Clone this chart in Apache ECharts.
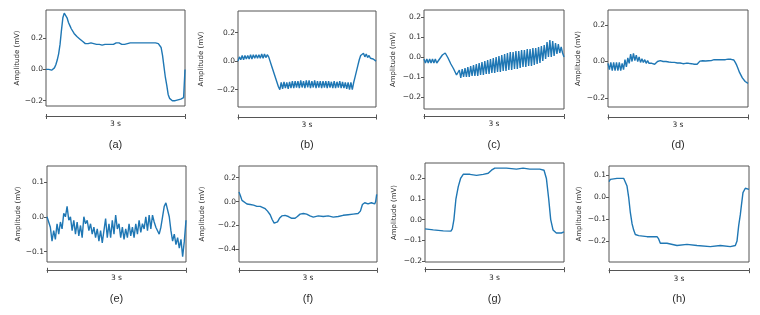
<!DOCTYPE html>
<html>
<head>
<meta charset="utf-8">
<script src="https://cdn.jsdelivr.net/npm/echarts@6/dist/echarts.min.js"></script>
<style>html,body{margin:0;padding:0;background:#fff;}#c{width:760px;height:315px;}</style>
</head>
<body>
<div id="c"></div>
<script>
// ---- data (amplitude in mV over a 3 s window) ----
var panelLabels = ['(a)', '(b)', '(c)', '(d)', '(e)', '(f)', '(g)', '(h)'];
var durationLabel = '3 s';
var yName = 'Amplitude (mV)';

// uniformly sampled traces
var aVals = [
  0.0, -0.01, 0.0, -0.01, -0.005, -0.01, 0.01, 0.03, 0.06, 0.10,
  0.16, 0.25, 0.33, 0.36, 0.36, 0.33, 0.30, 0.28, 0.26, 0.25,
  0.23, 0.22, 0.21, 0.20, 0.195, 0.19, 0.18, 0.175, 0.165, 0.16,
  0.165, 0.155, 0.17, 0.16, 0.165, 0.17, 0.16, 0.165, 0.16, 0.165,
  0.155, 0.165, 0.16, 0.17, 0.16, 0.165, 0.16, 0.17, 0.16, 0.165,
  0.17, 0.16, 0.17, 0.165, 0.16, 0.17, 0.16, 0.17, 0.165, 0.16,
  0.17, 0.165, 0.17, 0.16, 0.17, 0.165, 0.17, 0.16, 0.17, 0.165,
  0.17, 0.165, 0.17, 0.165, 0.17, 0.165, 0.17, 0.165, 0.17, 0.17,
  0.165, 0.165, 0.14, 0.09, 0.02, -0.05, -0.10, -0.16, -0.185, -0.195,
  -0.20, -0.195, -0.20, -0.195, -0.195, -0.19, -0.19, -0.185, -0.18, 0.0
];
var bVals = [
  0.0, 0.03, 0.01, 0.04, 0.01, 0.04, 0.015, 0.04, 0.015, 0.045,
  0.015, 0.045, 0.02, 0.045, 0.02, 0.045, 0.02, 0.05, 0.02, 0.05,
  0.025, 0.045, 0.03, 0.0, -0.03, -0.06, -0.09, -0.12, -0.15, -0.18,
  -0.20, -0.15, -0.195, -0.145, -0.19, -0.15, -0.195, -0.145, -0.19, -0.14,
  -0.19, -0.14, -0.185, -0.14, -0.19, -0.135, -0.185, -0.14, -0.19, -0.135,
  -0.185, -0.135, -0.19, -0.14, -0.185, -0.135, -0.19, -0.14, -0.185, -0.14,
  -0.19, -0.14, -0.185, -0.14, -0.19, -0.14, -0.185, -0.145, -0.19, -0.14,
  -0.19, -0.145, -0.185, -0.14, -0.19, -0.145, -0.19, -0.15, -0.195, -0.15,
  -0.20, -0.15, -0.20, -0.15, -0.11, -0.07, -0.03, 0.01, 0.04, 0.03,
  0.055, 0.03, 0.05, 0.025, 0.04, 0.02, 0.03, 0.015, 0.01, 0.0
];
var cVals = [
  -0.01, -0.03, -0.01, -0.03, -0.01, -0.03, -0.01, -0.03, -0.01, -0.03,
  -0.02, -0.01, 0.0, 0.01, 0.02, 0.02, 0.01, -0.005, -0.02, -0.035,
  -0.045, -0.06, -0.075, -0.09, -0.10, -0.065, -0.105, -0.06, -0.10, -0.055,
  -0.10, -0.05, -0.10, -0.045, -0.095, -0.04, -0.095, -0.035, -0.095, -0.03,
  -0.09, -0.025, -0.09, -0.02, -0.085, -0.015, -0.085, -0.01, -0.08, -0.005,
  -0.08, 0.0, -0.075, 0.005, -0.075, 0.01, -0.07, 0.015, -0.07, 0.02,
  -0.065, 0.025, -0.065, 0.025, -0.06, 0.03, -0.06, 0.03, -0.055, 0.035,
  -0.05, 0.035, -0.05, 0.04, -0.045, 0.04, -0.045, 0.045, -0.04, 0.045,
  -0.035, 0.05, -0.03, 0.055, -0.02, 0.06, -0.01, 0.075, 0.0, 0.085,
  0.0, 0.08, 0.005, 0.07, 0.015, 0.065, 0.02, 0.05, 0.02, 0.0
];
var dVals = [
  -0.01, -0.045, -0.005, -0.05, -0.005, -0.05, -0.005, -0.05, -0.005, -0.05,
  -0.01, -0.045, 0.01, -0.03, 0.02, -0.01, 0.04, 0.0, 0.045, 0.005,
  0.035, 0.0, 0.025, -0.005, 0.015, -0.005, 0.01, -0.01, 0.005, -0.01,
  -0.005, -0.01, -0.015, -0.015, -0.01, 0.0, 0.005, 0.005, 0.0, 0.0,
  -0.002, 0.0, -0.005, -0.003, -0.005, -0.005, -0.008, -0.005, -0.01, -0.008,
  -0.01, -0.008, -0.01, -0.012, -0.01, -0.01, -0.012, -0.01, -0.014, -0.012,
  -0.014, -0.015, -0.013, -0.015, -0.01, 0.002, 0.005, 0.004, 0.005, 0.003,
  0.002, 0.004, 0.003, 0.005, 0.008, 0.01, 0.012, 0.01, 0.012, 0.01,
  0.012, 0.01, 0.013, 0.01, 0.012, 0.013, 0.01, 0.012, 0.012, 0.008,
  -0.005, -0.02, -0.04, -0.06, -0.075, -0.09, -0.10, -0.11, -0.117, -0.12
];
var eVals = [
  0.0, 0.0, -0.03, -0.07, -0.04, -0.065, -0.02, -0.05, -0.015, -0.035,
  0.01, 0.0, 0.03, -0.01, 0.0, -0.04, -0.01, -0.05, -0.015, -0.055,
  -0.025, -0.06, 0.0, -0.02, -0.01, -0.04, -0.02, -0.05, -0.03, -0.06,
  -0.035, -0.07, -0.04, -0.075, -0.04, -0.005, -0.06, -0.02, -0.06, -0.01,
  -0.05, 0.005, -0.035, -0.02, -0.06, -0.03, -0.065, -0.035, -0.06, -0.02,
  -0.055, -0.03, -0.06, -0.02, -0.05, -0.01, -0.045, -0.02, -0.035, 0.0,
  -0.04, 0.005, -0.035, 0.005, -0.015, -0.03, -0.04, -0.05, -0.03, 0.0,
  0.03, 0.04, 0.035, 0.0, -0.04, -0.07, -0.05, -0.08, -0.06, -0.09,
  -0.065, -0.115, -0.07, -0.01
];
// traces read at irregular times (s)
var fT = [0, 0.029, 0.065, 0.101, 0.173, 0.245, 0.317, 0.389, 0.461, 0.519, 0.570, 0.620, 0.678, 0.721, 0.764, 0.800, 0.837, 0.880, 0.930, 1.002, 1.074, 1.147, 1.219, 1.269, 1.327, 1.399, 1.471, 1.543, 1.615, 1.723, 1.832, 1.940, 2.048, 2.156, 2.264, 2.373, 2.481, 2.589, 2.639, 2.683, 2.733, 2.805, 2.877, 2.950, 2.971, 2.993];
var fV = [0.08, 0.05, 0.01, -0.005, -0.02, -0.025, -0.03, -0.04, -0.04, -0.05, -0.06, -0.08, -0.11, -0.15, -0.18, -0.185, -0.17, -0.14, -0.12, -0.115, -0.125, -0.14, -0.14, -0.125, -0.105, -0.10, -0.105, -0.12, -0.13, -0.12, -0.125, -0.12, -0.13, -0.125, -0.115, -0.11, -0.105, -0.10, -0.08, -0.025, -0.01, -0.02, -0.01, -0.02, 0.0, 0.06];
var gT = [0, 0.179, 0.395, 0.560, 0.589, 0.624, 0.667, 0.718, 0.768, 0.825, 0.969, 1.112, 1.256, 1.364, 1.435, 1.507, 1.758, 1.974, 2.117, 2.261, 2.476, 2.569, 2.620, 2.670, 2.713, 2.763, 2.835, 2.943, 3.0];
var gV = [-0.045, -0.05, -0.055, -0.056, -0.045, 0.0, 0.10, 0.16, 0.20, 0.22, 0.22, 0.215, 0.22, 0.225, 0.24, 0.25, 0.25, 0.245, 0.25, 0.245, 0.245, 0.24, 0.20, 0.10, 0.0, -0.05, -0.065, -0.065, -0.06];
var hT = [0, 0.029, 0.064, 0.171, 0.314, 0.350, 0.386, 0.421, 0.457, 0.493, 0.529, 0.564, 0.636, 0.814, 1.029, 1.064, 1.100, 1.243, 1.457, 1.671, 1.886, 2.171, 2.386, 2.600, 2.707, 2.743, 2.779, 2.814, 2.836, 2.871, 2.921, 2.957, 3.0];
var hV = [0.07, 0.08, 0.085, 0.085, 0.085, 0.08, 0.05, 0.0, -0.07, -0.12, -0.15, -0.17, -0.175, -0.18, -0.18, -0.19, -0.21, -0.21, -0.22, -0.215, -0.22, -0.225, -0.22, -0.225, -0.22, -0.20, -0.13, -0.08, -0.04, 0.02, 0.04, 0.045, 0.035];

// y ranges and tick labels per panel
var yMin = [-0.234, -0.322, -0.26, -0.25, -0.13, -0.505, -0.206, -0.295];
var yMax = [0.38, 0.352, 0.235, 0.283, 0.146, 0.297, 0.275, 0.141];
var yTicks = [
  [-0.2, 0.0, 0.2],
  [-0.2, 0.0, 0.2],
  [-0.2, -0.1, 0.0, 0.1, 0.2],
  [-0.2, 0.0, 0.2],
  [-0.1, 0.0, 0.1],
  [-0.4, -0.2, 0.0, 0.2],
  [-0.2, -0.1, 0.0, 0.1, 0.2],
  [-0.2, -0.1, 0.0, 0.1]
];

// ---- build ----
function uniform(vals) {
  var n = vals.length;
  return vals.map(function (v, i) { return [i * 3 / (n - 1), v]; });
}
function paired(ts, vs) {
  return ts.map(function (t, i) { return [t, vs[i]]; });
}
var traces = [uniform(aVals), uniform(bVals), uniform(cVals), uniform(dVals), uniform(eVals), paired(fT, fV), paired(gT, gV), paired(hT, hV)];

// layout: [left, top, width, height, bracketOffset, yNameGap]
var layout = [
  [46, 10, 139, 96, 10.5, 25],
  [238, 11, 138, 96, 10, 33],
  [424, 10, 140, 99, 7.5, 27],
  [608, 10, 140, 97, 10, 26],
  [47, 166, 139, 96, 8.3, 25],
  [239, 166, 138, 96, 8.3, 33],
  [425, 163, 139, 99, 7.7, 27],
  [609, 166, 140, 96, 8.7, 26]
];
var FONT = 'DejaVu Sans';
var TXT = '#2b2b2b';
var EDGE = '#555';

function fmt(v) {
  var s = Math.abs(v).toFixed(1);
  return (v < -1e-9 ? '\u2212' : '') + s;
}

var grids = [], xAxes = [], yAxes = [], series = [], graphics = [];
layout.forEach(function (L, i) {
  grids.push({ left: L[0], top: L[1], width: L[2], height: L[3], show: true, borderColor: EDGE, borderWidth: 1, backgroundColor: 'transparent' });
  xAxes.push({ type: 'value', gridIndex: i, min: 0, max: 3, show: false });
  xAxes.push({
    type: 'value', gridIndex: i, min: 0, max: 3, position: 'bottom', offset: L[4],
    axisLine: { show: true, lineStyle: { color: EDGE, width: 1 } },
    axisTick: { show: true, inside: false, length: 2.5, customValues: [0, 3], lineStyle: { color: EDGE } },
    axisLabel: { show: false }, splitLine: { show: false },
    name: durationLabel, nameLocation: 'middle', nameGap: 4,
    nameTextStyle: { fontFamily: FONT, fontSize: 7.5, color: TXT }
  });
  xAxes.push({
    type: 'value', gridIndex: i, min: 0, max: 3, position: 'bottom', offset: L[4],
    axisLine: { show: false },
    axisTick: { show: true, inside: true, length: 2.5, customValues: [0, 3], lineStyle: { color: EDGE } },
    axisLabel: { show: false }, splitLine: { show: false }
  });
  yAxes.push({
    type: 'value', gridIndex: i, min: yMin[i], max: yMax[i],
    axisLine: { show: false },
    axisTick: { show: true, length: 3, customValues: yTicks[i], lineStyle: { color: EDGE } },
    axisLabel: { show: true, margin: 3, customValues: yTicks[i], formatter: fmt, fontFamily: FONT, fontSize: 7.5, color: TXT },
    splitLine: { show: false },
    name: yName, nameLocation: 'middle', nameRotate: 90, nameGap: L[5],
    nameTextStyle: { fontFamily: FONT, fontSize: 7, color: TXT }
  });
  series.push({
    type: 'line', xAxisIndex: i * 3, yAxisIndex: i, data: traces[i],
    showSymbol: false, symbol: 'none', smooth: false,
    lineStyle: { color: '#1f77b4', width: 1.4 }, animation: false
  });
  var rowY = i < 4 ? 145 : 299;
  graphics.push({
    type: 'text', x: L[0] + L[2] / 2, y: rowY,
    style: { text: panelLabels[i], fill: TXT, font: '11px "Liberation Sans"', textAlign: 'center', textVerticalAlign: 'middle' }
  });
});

var chart = echarts.init(document.getElementById('c'), null, { renderer: 'canvas' });
chart.setOption({
  backgroundColor: '#fff',
  animation: false,
  grid: grids,
  xAxis: xAxes,
  yAxis: yAxes,
  series: series,
  graphic: graphics
});
</script>
</body>
</html>
